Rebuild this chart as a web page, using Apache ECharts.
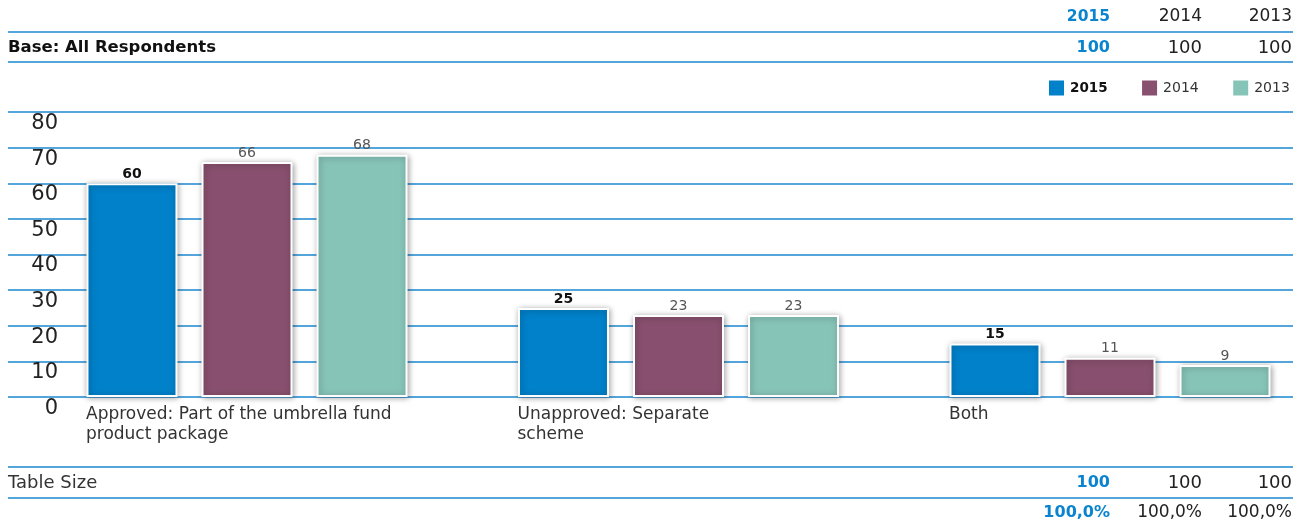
<!DOCTYPE html>
<html>
<head>
<meta charset="utf-8">
<script src="https://cdn.jsdelivr.net/npm/echarts@6/dist/echarts.min.js"></script>
<style>
  html, body { margin: 0; padding: 0; background: #fff; }
  #chart { width: 1306px; height: 524px; }
</style>
</head>
<body>
<div id="chart"></div>
<script>
// Chart data
var categories = [
  'Approved: Part of the umbrella fund\nproduct package',
  'Unapproved: Separate\nscheme',
  'Both'
];
var years = ['2015', '2014', '2013'];
var values2015 = [60, 25, 15];
var values2014 = [66, 23, 11];
var values2013 = [68, 23, 9];
var baseRow = ['100', '100', '100'];
var tableSizeRow = ['100', '100', '100'];
var percentRow = ['100,0%', '100,0%', '100,0%'];
var yTicks = [0, 10, 20, 30, 40, 50, 60, 70, 80];

var FONT = '"DejaVu Sans", "Noto Sans", sans-serif';
var BLUE_LINE = '#1a87d0';
var HEAD_BLUE = '#0a84cf';
var colors = ['#0081ca', '#88506e', '#87c4b8'];
var seriesValues = [values2015, values2014, values2013];

var chart = echarts.init(document.getElementById('chart'), null, { renderer: 'canvas' });

// Table rows above and below the plot
var colRight = [1110, 1202, 1292];
var graphics = [];
function hLine(y) {
  graphics.push({ type: 'line', shape: { x1: 8, y1: y, x2: 1293, y2: y },
    style: { stroke: BLUE_LINE, lineWidth: 1.5 }, silent: true });
}
function txt(x, y, s, opts) {
  graphics.push({ type: 'text', x: x, y: y, silent: true,
    style: Object.assign({ text: s, fontFamily: FONT, fontSize: 17, fill: '#222',
      textAlign: 'right', textVerticalAlign: 'middle' }, opts || {}) });
}
var boldBlue = { fill: HEAD_BLUE, fontWeight: 'bold', fontSize: 15.5 };
hLine(32); hLine(62); hLine(467); hLine(498);
years.forEach(function (y, i) {
  txt(colRight[i], 17, y, i === 0 ? boldBlue : {});
  txt(colRight[i], 48, baseRow[i], i === 0 ? { fill: HEAD_BLUE, fontWeight: 'bold', fontSize: 16 } : { fontSize: 18 });
  txt(colRight[i], 483, tableSizeRow[i], i === 0 ? { fill: HEAD_BLUE, fontWeight: 'bold', fontSize: 16 } : { fontSize: 18 });
  txt(colRight[i], 513, percentRow[i], i === 0 ? { fill: HEAD_BLUE, fontWeight: 'bold', fontSize: 16 } : { fontSize: 17 });
});
txt(8, 48, 'Base: All Respondents', { textAlign: 'left', fontWeight: 'bold', fill: '#111', fontSize: 16.5 });
txt(8, 483, 'Table Size', { textAlign: 'left', fill: '#333', fontSize: 18 });

var series = years.map(function (name, i) {
  return {
    name: name,
    type: 'bar',
    xAxisIndex: 1,
    yAxisIndex: 1,
    data: seriesValues[i],
    clip: false,
    barWidth: 91,
    barGap: '26.4%',
    itemStyle: {
      color: colors[i],
      borderColor: '#ffffff',
      borderWidth: 2,
      shadowBlur: 6,
      shadowColor: 'rgba(0,0,0,0.35)',
      shadowOffsetX: 1,
      shadowOffsetY: 1
    },
    label: {
      show: true,
      position: 'top',
      distance: 2,
      fontFamily: FONT,
      fontSize: 14,
      fontWeight: i === 0 ? 'bold' : 'normal',
      color: i === 0 ? '#111' : '#555'
    }
  };
});

chart.setOption({
  animation: false,
  graphic: graphics,
  legend: {
    left: 1047,
    top: 78.5,
    padding: 0,
    itemWidth: 17,
    itemHeight: 17,
    itemGap: 32.5,
    icon: 'rect',
    textStyle: { fontFamily: FONT, fontSize: 14, color: '#333' },
    data: [
      { name: '2015', textStyle: { fontWeight: 'bold', color: '#111', fontSize: 13.5 } },
      { name: '2014' },
      { name: '2013' }
    ]
  },
  grid: [
    { left: 8, right: 13, top: 112, height: 285 },
    // category centres sit on the ticks; each band is 431.5px wide
    { left: 247, width: 863, top: 112, height: 285 }
  ],
  xAxis: [
    { gridIndex: 0, type: 'category', data: [''], show: false },
    {
      gridIndex: 1,
      type: 'category',
      boundaryGap: false,
      data: categories,
      axisLine: { show: false },
      axisTick: { show: false },
      axisLabel: {
        interval: 0,
        margin: 8,
        align: 'center',
        formatter: function (v) {
          return v.split('\n').map(function (l) { return '{w|' + l + '}'; }).join('\n');
        },
        rich: {
          w: { width: 322, align: 'left', fontFamily: FONT, fontSize: 17, lineHeight: 20, color: '#333' }
        }
      }
    }
  ],
  yAxis: [
    {
      gridIndex: 0,
      type: 'value',
      min: yTicks[0],
      max: yTicks[yTicks.length - 1],
      interval: 10,
      axisLine: { show: false },
      axisTick: { show: false },
      splitLine: { lineStyle: { color: BLUE_LINE, width: 1.5 } },
      axisLabel: {
        margin: -50,
        align: 'right',
        verticalAlign: 'top',
        padding: [1, 0, 0, 0],
        fontFamily: FONT,
        fontSize: 21,
        lineHeight: 21,
        color: '#222'
      }
    },
    {
      gridIndex: 1,
      type: 'value',
      min: yTicks[0],
      max: yTicks[yTicks.length - 1],
      interval: 10,
      show: false,
      splitLine: { show: false }
    }
  ],
  series: series
});
</script>
</body>
</html>
